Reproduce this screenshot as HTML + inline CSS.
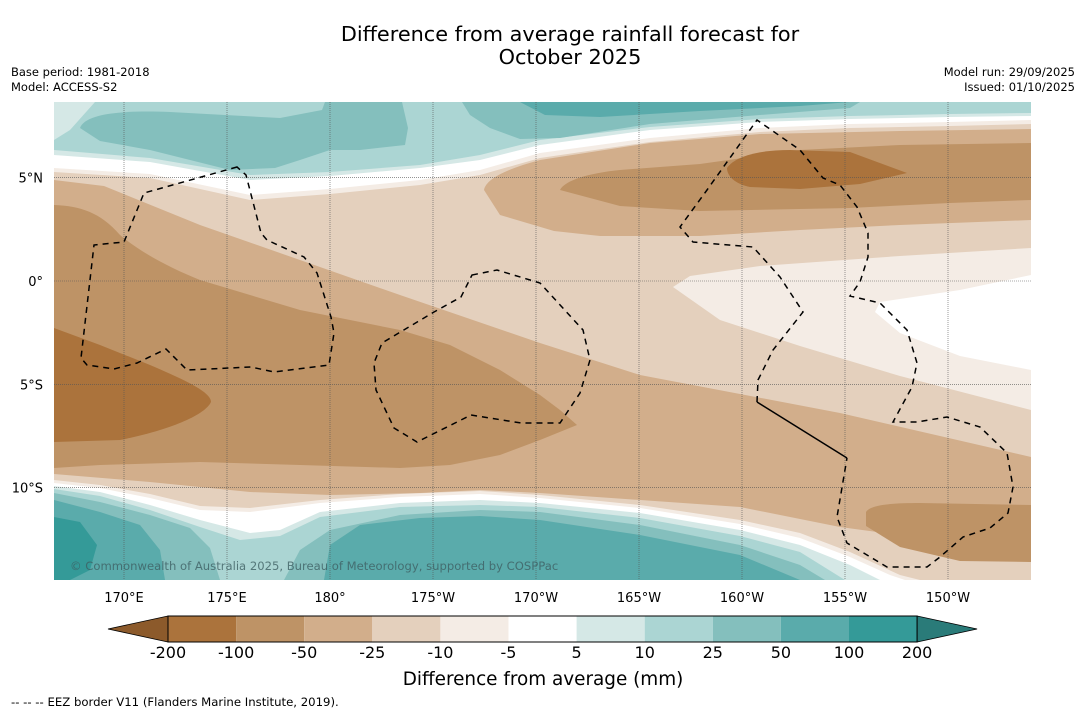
<!DOCTYPE html>
<html><head><meta charset="utf-8"><style>
html,body{margin:0;padding:0;background:#fff;}
svg{display:block;font-family:"DejaVu Sans","Liberation Sans",sans-serif;}
</style></head><body>
<svg id="chart" width="1085" height="713" viewBox="0 0 1085 713" xmlns="http://www.w3.org/2000/svg">
<rect width="1085" height="713" fill="#fff"/>
<text x="570" y="41" font-size="20.8" text-anchor="middle" fill="#000">Difference from average rainfall forecast for</text>
<text x="570" y="64" font-size="20.8" text-anchor="middle" fill="#000">October 2025</text>
<text x="11" y="76" font-size="11.5">Base period: 1981-2018</text>
<text x="11" y="91" font-size="11.5">Model: ACCESS-S2</text>
<text x="1075" y="76" font-size="11.5" text-anchor="end">Model run: 29/09/2025</text>
<text x="1075" y="91" font-size="11.5" text-anchor="end">Issued: 01/10/2025</text>
<defs><clipPath id="mapclip"><rect x="54" y="102" width="977" height="478"/></clipPath></defs>
<g clip-path="url(#mapclip)">
<rect x="54" y="102" width="977" height="478" fill="#e4d0bd"/>
<path fill="#f4ece5" d="M54,102 L1031,102 L1031,124 L950,126 L850,128 L760,132 L650,142 L540,158 L480,175 L420,185 L330,194 L250,200 L150,178 L54,172 Z"/>
<path fill="#ffffff" d="M54,102 L1031,102 L1031,120 L950,122 L850,124 L760,128 L650,138 L540,153 L480,170 L420,180 L330,189 L250,195 L150,174 L54,168 Z"/>
<path fill="#d5e8e6" d="M54,102 L1031,102 L1031,116 L950,117 L850,119 L760,122 L650,130 L540,145 L480,160 L420,168 L330,176 L250,180 L150,162 L54,155 Z"/>
<path fill="#abd5d3" d="M95,102 L1031,102 L1031,113 L950,114 L850,116 L760,119 L650,127 L540,140 L480,155 L420,165 L330,172 L250,175 L150,158 L54,150 L54,140 L70,130 Z"/>
<path fill="#84bfbd" d="M80,128 C85,114 120,110 170,112 L280,118 L322,110 L325,102 L402,102 L408,128 L405,145 L360,150 L330,150 L300,160 L275,168 L230,170 L190,160 L150,150 L100,141 Z"/>
<path fill="#84bfbd" d="M462,102 L860,102 L850,108 L760,115 L650,124 L560,138 L520,139 L490,128 L470,115 Z"/>
<path fill="#5aabab" d="M520,102 L850,102 L800,106 L700,111 L600,117 L545,115 Z"/>
<path fill="#d2ae8b" d="M484,190 C486,178 510,168 540,160 L650,143 L760,134 L900,131 L1031,129 L1031,220 L900,225 L800,230 L700,236 L600,236 L554,231 L500,215 Z"/>
<path fill="#be9366" d="M560,190 C565,180 590,173 620,170 L700,164 L800,150 L900,145 L1031,143 L1031,200 L950,203 L850,208 L700,211 L620,206 Z"/>
<path fill="#ab733c" d="M727,168 C735,156 760,150 790,150 L850,152 L907,173 L860,184 L800,189 L750,187 C735,184 727,176 727,168 Z"/>
<path fill="#f4ece5" d="M673,287 L690,276 L760,266 L900,256 L1031,248 L1031,410 L900,376 L800,346 L720,320 Z"/>
<path fill="#ffffff" d="M875,312 L880,302 L960,290 L1031,275 L1031,370 L960,356 L900,333 Z"/>
<path fill="#d2ae8b" d="M54,180 L104,186 L200,225 L300,260 L400,295 L540,343 L640,375 L840,413 L1031,457 L1031,553 L840,527 L740,507 L540,493 L480,490 L420,493 L330,495 L250,492 L150,482 L54,474 Z"/>
<path fill="#be9366" d="M54,205 C80,206 100,212 120,235 C140,252 170,268 200,280 L300,310 L400,330 L450,345 L500,370 L540,395 L560,410 L577,425 L540,440 L500,455 L450,465 L400,468 L300,465 L200,462 L100,465 L54,468 Z"/>
<path fill="#ab733c" d="M54,328 L100,345 L150,365 C185,380 211,392 211,402 C205,415 170,430 120,440 L54,442 Z"/>
<path fill="#be9366" d="M866,512 C870,505 890,503 920,503 L1031,505 L1031,562 L960,561 L900,547 L866,526 Z"/>
<path fill="#f4ece5" d="M54,480 L100,485 L150,494 L200,506 L250,508 L320,500 L400,494 L480,491 L540,495 L640,505 L740,520 L800,533 L850,552 L900,575 L920,580 L54,580 Z"/>
<path fill="#ffffff" d="M54,483 L100,488 L150,498 L200,510 L250,512 L320,503 L400,497 L480,494 L540,498 L640,508 L740,524 L800,538 L850,557 L890,575 L905,580 L54,580 Z"/>
<path fill="#d5e8e6" d="M54,486 L100,492 L150,505 L200,520 L250,533 L280,530 L320,512 L400,503 L480,500 L540,503 L640,513 L740,530 L800,545 L850,565 L880,580 L54,580 Z"/>
<path fill="#abd5d3" d="M54,489 L100,496 L150,510 L200,527 L240,540 L280,536 L320,517 L400,507 L480,505 L540,507 L640,518 L740,536 L800,552 L845,580 L54,580 Z"/>
<path fill="#84bfbd" d="M54,493 L100,502 L150,515 L190,528 L210,548 L220,580 L54,580 Z"/>
<path fill="#84bfbd" d="M284,580 L300,550 L330,530 L400,515 L480,510 L540,512 L640,525 L740,545 L800,565 L825,580 Z"/>
<path fill="#5aabab" d="M54,500 L100,512 L140,525 L160,550 L165,580 L54,580 Z"/>
<path fill="#5aabab" d="M324,580 L330,545 L360,525 L420,518 L480,516 L540,520 L640,535 L740,555 L800,580 Z"/>
<path fill="#349a98" d="M54,517 L80,522 L97,545 L90,570 L70,580 L54,580 Z"/>
<g id="grid" stroke="#555" stroke-width="0.6" stroke-dasharray="1,1" fill="none"></g>
<g stroke="#000" stroke-width="1.5" fill="none" stroke-dasharray="6,5">
<path d="M237,167 L144,193 L124,242 L94,245 L81,358 L87,365 L114,369 L137,363 L166,349 L187,370 L251,367 L274,372 L329,365 L334,333 L331,317 L317,273 L304,257 L267,240 L261,233 L246,175 Z"/>
<path d="M472,275 L497,270 L540,283 L583,330 L590,360 L580,393 L560,423 L521,423 L471,415 L417,442 L394,428 L376,390 L374,363 L382,343 L434,312 L461,297 Z"/>
<path d="M757,402 L758,380 L773,350 L803,312 L780,277 L753,247 L693,242 L680,227 L707,190 L757,120 L800,150 L823,178 L840,185 L857,207 L868,233 L868,257 L860,282 L850,296 L880,303 L907,330 L917,363 L912,387 L893,422 L917,422 L947,417 L980,427 L1007,453 L1013,487 L1008,513 L990,528 L963,537 L940,557 L927,567 L887,567 L847,543 L837,517 L847,458"/>
</g>
<path d="M847,458 L757,402" stroke="#000" stroke-width="1.5" fill="none"/>
<text x="70" y="570" font-size="11.6" fill="#3e5f63" fill-opacity="0.8">© Commonwealth of Australia 2025, Bureau of Meteorology, supported by COSPPac</text>
</g>
<g id="axes"></g>
<g id="colorbar"></g>
<text x="543" y="685" font-size="18.4" text-anchor="middle">Difference from average (mm)</text>
<text x="11" y="706" font-size="11.7">--  --  -- EEZ border V11 (Flanders Marine Institute, 2019).</text>
</svg>
<script>
const lonTicks = [170, 175, 180, 185, 190, 195, 200, 205, 210];
const lonLabels = ["170°E","175°E","180°","175°W","170°W","165°W","160°W","155°W","150°W"];
const latTicks = [5, 0, -5, -10];
const latLabels = ["5°N","0°","5°S","10°S"];
const cbLevels = [-200, -100, -50, -25, -10, -5, 5, 10, 25, 50, 100, 200];
const cbColors = ["#ab733c","#be9366","#d2ae8b","#e4d0bd","#f4ece5","#ffffff","#d5e8e6","#abd5d3","#84bfbd","#5aabab","#349a98"];
const cbExtendColors = ["#8c5a2b","#2a7b79"];
const NS = "http://www.w3.org/2000/svg";
const xLon = lon => 124 + (lon - 170) * 20.6;
const yLat = lat => 281 - lat * 20.66;
function mk(tag, attrs, parent) { const e = document.createElementNS(NS, tag); for (const k in attrs) e.setAttribute(k, attrs[k]); parent.appendChild(e); return e; }
const grid = document.getElementById('grid');
const axes = document.getElementById('axes');
lonTicks.forEach((lon, i) => {
  const l = mk('line', {x1: xLon(lon), x2: xLon(lon), y1: 102, y2: 580}, grid);
  
  
  const t = mk('text', {x: xLon(lon), y: 602, 'font-size': 13, 'text-anchor': 'middle'}, axes);
  t.textContent = lonLabels[i];
  
  
});
latTicks.forEach((lat, i) => {
  const l = mk('line', {x1: 54, x2: 1031, y1: yLat(lat), y2: yLat(lat)}, grid);
  
  
  const t = mk('text', {x: 43, y: yLat(lat) + 5, 'font-size': 13, 'text-anchor': 'end'}, axes);
  t.textContent = latLabels[i];
  
  
});
const cb = document.getElementById('colorbar');
const cbX0 = 168, cbW = 68.1, cbY = 616, cbH = 26;
cbColors.forEach((c, i) => {
  const r = mk('rect', {x: cbX0 + i * cbW, y: cbY, width: cbW, height: cbH, fill: c}, cb);
  
  
});
const cbEnd = cbX0 + cbColors.length * cbW;
const la = mk('polygon', {points: `${cbX0},${cbY} 108,${cbY+cbH/2} ${cbX0},${cbY+cbH}`, fill: cbExtendColors[0], stroke: '#000', 'stroke-width': 0.8}, cb);


const ra = mk('polygon', {points: `${cbEnd},${cbY} ${cbEnd+60},${cbY+cbH/2} ${cbEnd},${cbY+cbH}`, fill: cbExtendColors[1], stroke: '#000', 'stroke-width': 0.8}, cb);


const ol = mk('rect', {x: cbX0, y: cbY, width: cbEnd - cbX0, height: cbH, fill: 'none', stroke: '#000', 'stroke-width': 1}, cb);


cbLevels.forEach((v, i) => {
  const t = mk('text', {x: cbX0 + i * cbW, y: 658, 'font-size': 16, 'text-anchor': 'middle'}, cb);
  t.textContent = v;
  
  
});
</script>
</body></html>
